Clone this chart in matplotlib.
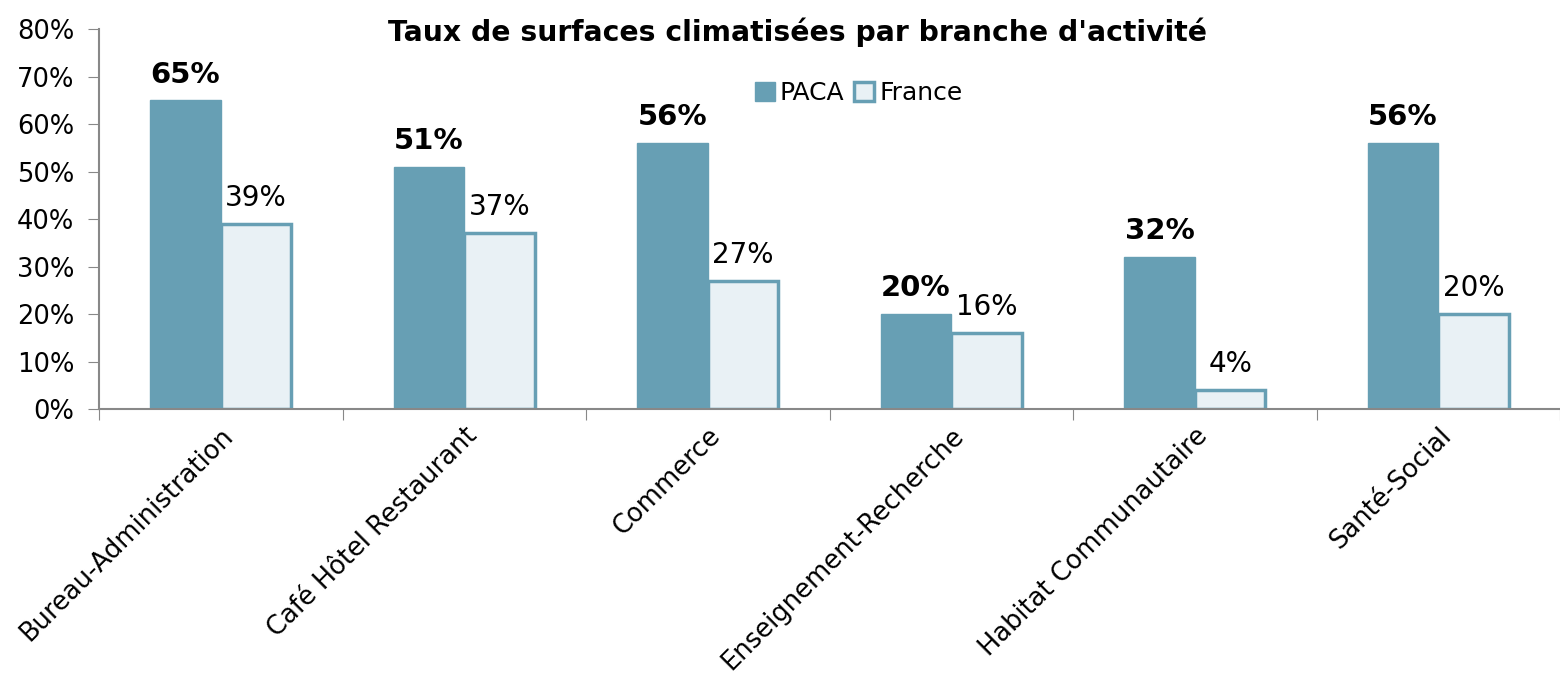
import matplotlib.pyplot as plt
import numpy as np

# Data
categories = ["Bureau-Administration", "Café Hôtel Restaurant", "Commerce",
              "Enseignement-Recherche", "Habitat Communautaire", "Santé-Social"]
paca = [65, 51, 56, 20, 32, 56]
france = [39, 37, 27, 16, 4, 20]

plt.rcParams['font.family'] = ['DejaVu Sans']

fig = plt.figure(figsize=(15.6, 6.79), dpi=100)
ax = fig.add_axes([0.0635, 0.3976, 0.9365, 0.5594])

x = np.arange(len(categories))
w = 0.29
ax.bar(x - w / 2, paca, w, color='#679fb4', edgecolor='#679fb4', linewidth=1, label='PACA')
ax.bar(x + w / 2, france, w, color='#e9f1f5', edgecolor='#679fb4', linewidth=2.5, label='France')

for i in range(len(categories)):
    ax.text(x[i] - w / 2, paca[i] + 2.5, f"{paca[i]}%", ha='center', va='bottom',
            fontsize=21, fontweight='bold')
    ax.text(x[i] + w / 2, france[i] + 2.5, f"{france[i]}%", ha='center', va='bottom',
            fontsize=20)

ax.set_xlim(-0.5, len(categories) - 0.5)
ax.set_ylim(0, 80)
ax.set_yticks(range(0, 81, 10))
ax.set_yticklabels([f"{v}%" for v in range(0, 81, 10)], fontsize=18.5)
ax.set_xticks(np.arange(-0.5, len(categories), 1))
ax.set_xticklabels([])
ax.set_xticks(x, minor=True)
ax.set_xticklabels(categories, minor=True, rotation=45, ha='right', va='top',
                   rotation_mode='anchor', fontsize=18.5)
ax.tick_params(axis='x', which='minor', length=0, pad=10)
ax.tick_params(axis='x', which='major', length=8, color='#888888', direction='out')
ax.tick_params(axis='y', length=8, color='#888888', pad=10)

for s in ['top', 'right']:
    ax.spines[s].set_visible(False)
ax.spines['left'].set_color('#888888')
ax.spines['bottom'].set_color('#888888')
ax.spines['left'].set_linewidth(1.5)
ax.spines['bottom'].set_linewidth(1.5)

fig.text(0.511, 0.953, "Taux de surfaces climatisées par branche d'activité",
         ha='center', va='center', fontsize=20.3, fontweight='bold')
ax.legend(loc='center', bbox_to_anchor=(0.52, 0.832), ncol=2, frameon=False,
          fontsize=18, handlelength=0.8, handleheight=0.8, handletextpad=0.2,
          columnspacing=0.4)

fig.savefig('out.png', dpi=100)
